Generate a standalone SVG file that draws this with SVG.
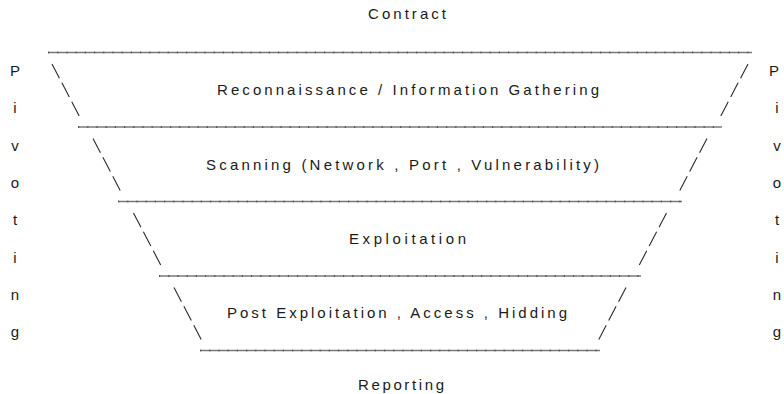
<svg xmlns="http://www.w3.org/2000/svg" width="784" height="394" viewBox="0 0 784 394">
<style>
  text { font-family: "Liberation Sans", Arial, sans-serif; font-size: 15px; fill: #1a1a1a; }
  .side { text-anchor: middle; }
  .rule { stroke: #7a7a7a; stroke-width: 1.5; fill: none; }
  .tick { stroke: #444444; stroke-width: 1.5; stroke-dasharray: 1.2 8; fill: none; }
  .edge { stroke: #2a2a2a; stroke-width: 1.1; stroke-dasharray: 16 5.3; fill: none; }
</style>
<rect width="784" height="394" fill="#ffffff"/>

<g id="contract"><text x="368" y="19" textLength="78" lengthAdjust="spacing">Contract</text></g>
<g id="stage-recon"><text x="217" y="95" textLength="382" lengthAdjust="spacing">Reconnaissance / Information Gathering</text></g>
<g id="stage-scan"><text x="206" y="170" textLength="393" lengthAdjust="spacing">Scanning (Network , Port , Vulnerability)</text></g>
<g id="stage-exploit"><text x="349" y="244" textLength="117" lengthAdjust="spacing">Exploitation</text></g>
<g id="stage-post"><text x="227" y="318" textLength="340" lengthAdjust="spacing">Post Exploitation , Access , Hidding</text></g>
<g id="reporting"><text x="358" y="390" textLength="86" lengthAdjust="spacing">Reporting</text></g>

<g id="pivoting-left">
  <text class="side" x="15" y="76">P</text>
  <text class="side" x="15" y="113.3">i</text>
  <text class="side" x="15" y="150.6">v</text>
  <text class="side" x="15" y="187.9">o</text>
  <text class="side" x="15" y="225.2">t</text>
  <text class="side" x="15" y="262.5">i</text>
  <text class="side" x="15" y="299.8">n</text>
  <text class="side" x="15" y="337.1">g</text>
</g>
<g id="pivoting-right">
  <text class="side" x="774" y="76">P</text>
  <text class="side" x="777" y="113.3">i</text>
  <text class="side" x="777" y="150.6">v</text>
  <text class="side" x="777" y="187.9">o</text>
  <text class="side" x="777" y="225.2">t</text>
  <text class="side" x="777" y="262.5">i</text>
  <text class="side" x="777" y="299.8">n</text>
  <text class="side" x="777" y="337.1">g</text>
</g>

<g id="connectors">
  <g id="rules">
    <line class="rule" x1="48" y1="52.5" x2="752" y2="52.5"/>
    <line class="tick" x1="48" y1="52.5" x2="752" y2="52.5"/>
    <line class="rule" x1="78" y1="127" x2="722" y2="127"/>
    <line class="tick" x1="78" y1="127" x2="722" y2="127"/>
    <line class="rule" x1="118" y1="201.5" x2="682" y2="201.5"/>
    <line class="tick" x1="118" y1="201.5" x2="682" y2="201.5"/>
    <line class="rule" x1="159" y1="276" x2="641" y2="276"/>
    <line class="tick" x1="159" y1="276" x2="641" y2="276"/>
    <line class="rule" x1="200" y1="350.5" x2="600" y2="350.5"/>
    <line class="tick" x1="200" y1="350.5" x2="600" y2="350.5"/>
  </g>
  <g id="left-edges">
    <line class="edge" x1="52" y1="64" x2="79.5" y2="116.5"/>
    <line class="edge" x1="93" y1="138.5" x2="120.5" y2="191"/>
    <line class="edge" x1="133.5" y1="213" x2="161" y2="265.5"/>
    <line class="edge" x1="174" y1="287.5" x2="201.5" y2="340"/>
  </g>
  <g id="right-edges">
    <line class="edge" x1="748" y1="64" x2="720.5" y2="116.5"/>
    <line class="edge" x1="707" y1="138.5" x2="679.5" y2="191"/>
    <line class="edge" x1="666.5" y1="213" x2="639" y2="265.5"/>
    <line class="edge" x1="626" y1="287.5" x2="598.5" y2="340"/>
  </g>
</g>
</svg>
